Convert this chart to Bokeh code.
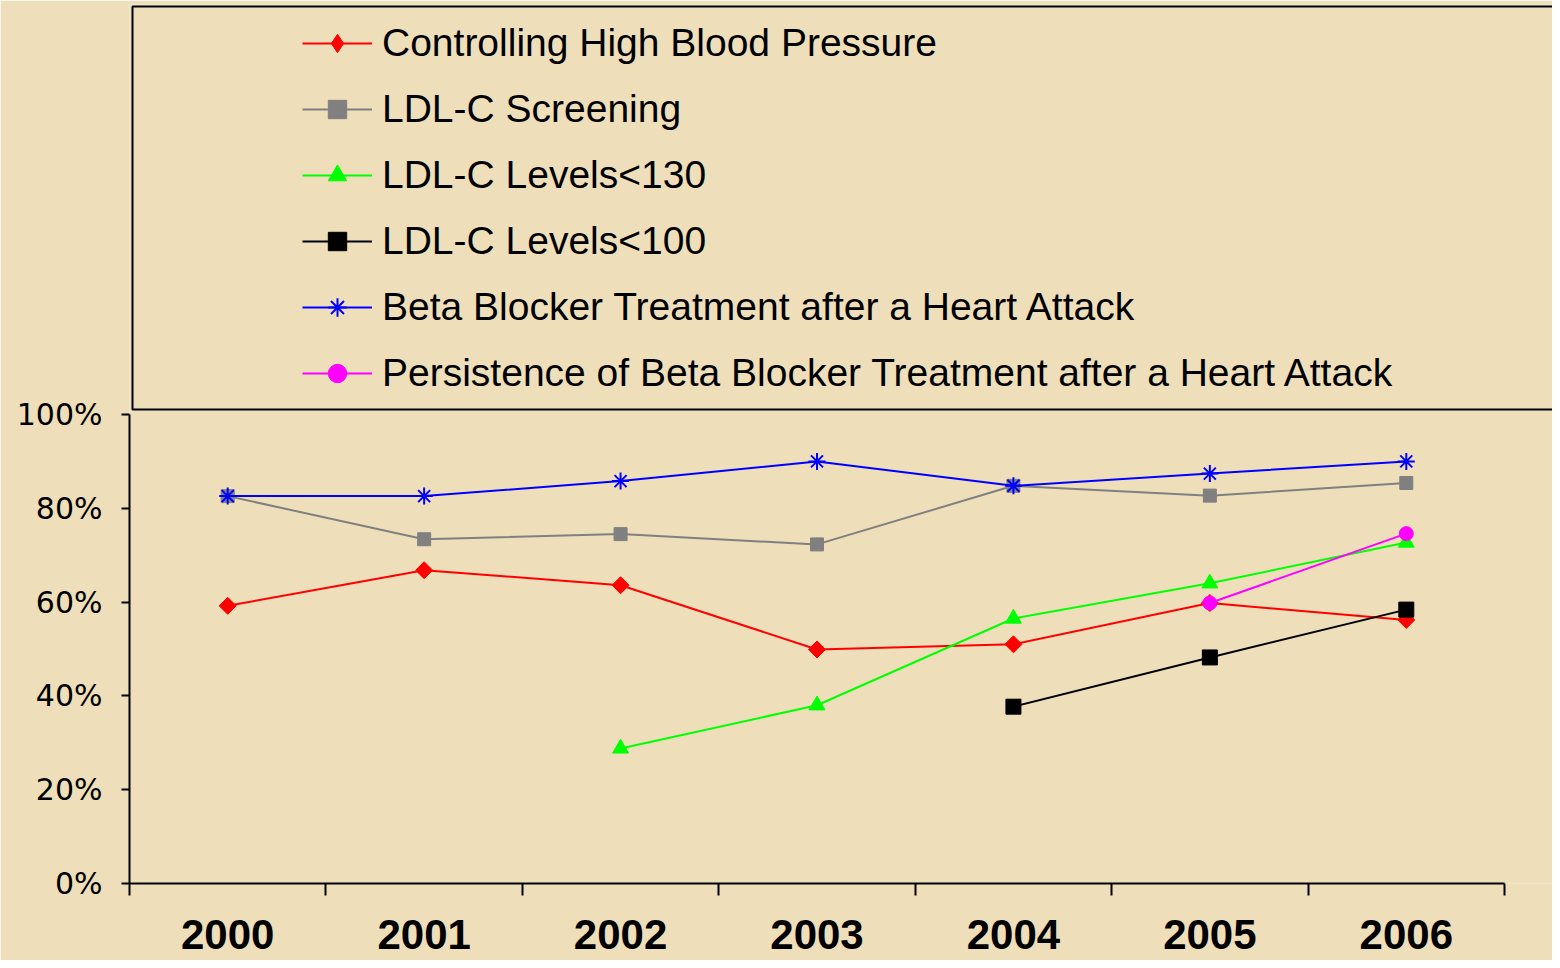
import math
from bokeh.plotting import figure
from bokeh.models import (Legend, LegendItem, FixedTicker, PrintfTickFormatter,
                          Range1d, ColumnDataSource, BoxAnnotation)
from bokeh.embed import file_html
from bokeh.resources import INLINE

nan = float("nan")

years = ["2000", "2001", "2002", "2003", "2004", "2005", "2006"]
blood_pressure = [59.2, 66.8, 63.6, 49.9, 51.0, 59.8, 56.2]
ldl_screening = [82.6, 73.4, 74.5, 72.3, 84.8, 82.7, 85.4]
ldl_130 = [nan, nan, 28.8, 38.0, 56.5, 64.0, 72.7]
ldl_100 = [nan, nan, nan, nan, 37.7, 48.2, 58.4]
beta_blocker = [82.6, 82.6, 85.8, 90.0, 84.8, 87.4, 90.0]
beta_persist = [nan, nan, nan, nan, nan, 59.8, 74.6]
y_ticks = [0, 20, 40, 60, 80, 100]

# name, values, colour, marker, size, angle, legend marker
series = [
    ("Controlling High Blood Pressure", blood_pressure, "#FF0000", "square", 12, math.pi / 4, "diamond"),
    ("LDL-C Screening", ldl_screening, "#808080", "square", 13, 0, "square"),
    ("LDL-C Levels<130", ldl_130, "#00FF00", "triangle", 16, 0, "triangle"),
    ("LDL-C Levels<100", ldl_100, "#000000", "square", 15, 0, "square"),
    ("Beta Blocker Treatment after a Heart Attack", beta_blocker, "#0000FF", "asterisk", 17, 0, "asterisk"),
    ("Persistence of Beta Blocker Treatment after a Heart Attack", beta_persist, "#FF00FF", "circle", 14, 0, "circle"),
]

n = len(years)
xpos = [i + 0.5 for i in range(n)]

# ---- layout constants (canvas pixels) ----
BG = "#EEDFBA"
W, H = 1552, 960
LEFT, AXIS_RIGHT = 129, 1504          # plot area left / right end of x axis
Y0, Y100 = 883, 414                   # canvas y of 0% and 100%
FRAME_TOP = 4                         # frame extends up to hold the legend box
BOX_LEFT, BOX_TOP, BOX_BOTTOM = 132, 6, 409

px_x = (AXIS_RIGHT - LEFT) / n        # px per category
px_y = (Y0 - Y100) / 100.0            # px per percent
x_end = (W - LEFT) / px_x
y_end = (Y0 - FRAME_TOP) / px_y

p = figure(width=W, height=H, output_backend="svg", toolbar_location=None,
           title=None,
           x_range=Range1d(0, x_end), y_range=Range1d(0, y_end),
           min_border_left=LEFT, min_border_right=0, min_border_top=FRAME_TOP,
           min_border_bottom=H - Y0, background_fill_color=BG, border_fill_color=BG,
           outline_line_color=None)
p.grid.visible = False

# legend frame (drawn in plot coordinates derived from the pixel layout)
p.add_layout(BoxAnnotation(left=(BOX_LEFT - LEFT) / px_x, right=x_end + 1,
                           top=(Y0 - BOX_TOP) / px_y, bottom=(Y0 - BOX_BOTTOM) / px_y,
                           fill_alpha=0, line_color="black", line_alpha=1,
                           line_width=2))

nan_src = ColumnDataSource(dict(x=[0.5], y=[nan]))
items = []
for name, vals, color, marker, size, ang, lmarker in series:
    src = ColumnDataSource(dict(x=xpos, y=vals))
    lw = 2 if marker == "asterisk" else 1
    lr = p.line("x", "y", source=src, line_color=color, line_width=2)
    sr = p.scatter("x", "y", source=src, marker=marker, size=size, angle=ang,
                   fill_color=color, line_color=color, line_width=lw)
    if lmarker != marker:
        sr = p.scatter("x", "y", source=nan_src, marker=lmarker, size=size,
                       fill_color=color, line_color=color, line_width=lw)
    items.append(LegendItem(label=name, renderers=[lr, sr]))

# legend: glyphs start at canvas x 302, last entry's bottom at canvas y 396
legend = Legend(items=items, location=(302 - LEFT, Y0 - 396), orientation="vertical",
                padding=0, margin=0, spacing=20, glyph_width=70, glyph_height=46,
                label_height=46, label_standoff=10,
                label_text_font="Liberation Sans", label_text_font_size="39px",
                label_text_color="black",
                border_line_alpha=0, background_fill_alpha=0)
p.add_layout(legend, "center")

# x axis: ticks at category boundaries, labels at centres
xa = p.xaxis[0]
xa.bounds = (0, n)
xa.ticker = FixedTicker(ticks=xpos, minor_ticks=list(range(n + 1)))
xa.major_label_overrides = {x: y for x, y in zip(xpos, years)}
xa.major_tick_out = 0
xa.major_tick_in = 0
xa.minor_tick_out = 12
xa.minor_tick_in = 0
xa.minor_tick_line_width = 2
xa.minor_tick_line_color = "black"
xa.axis_line_width = 2
xa.axis_line_color = "black"
xa.major_label_text_font = "Liberation Sans"
xa.major_label_text_font_style = "bold"
xa.major_label_text_font_size = "42px"
xa.major_label_text_color = "black"
xa.major_label_standoff = 24

ya = p.yaxis[0]
ya.bounds = (0, 100)
ya.ticker = FixedTicker(ticks=y_ticks, minor_ticks=[])
ya.formatter = PrintfTickFormatter(format="%d%%")
ya.major_tick_out = 8
ya.major_tick_in = 0
ya.major_tick_line_width = 2
ya.major_tick_line_color = "black"
ya.axis_line_width = 2
ya.axis_line_color = "black"
ya.major_label_text_font = "DejaVu Sans"
ya.major_label_text_font_size = "30px"
ya.major_label_text_color = "black"
ya.major_label_standoff = 19

open("out.html", "w").write(file_html(p, INLINE))
